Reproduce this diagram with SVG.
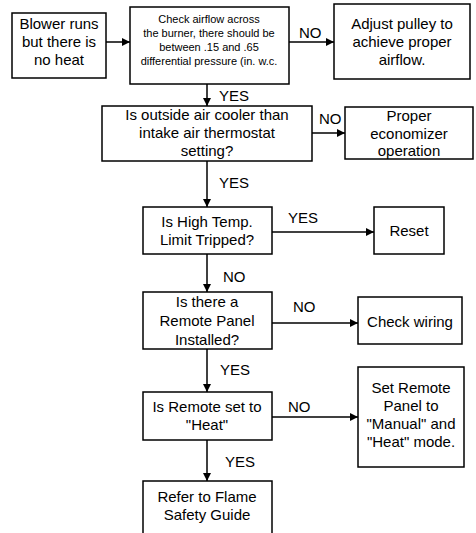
<svg xmlns="http://www.w3.org/2000/svg" width="476" height="533" viewBox="0 0 476 533">
<defs>
<marker id="ah" viewBox="0 0 10 10" refX="10" refY="5" markerWidth="10" markerHeight="8" markerUnits="userSpaceOnUse" orient="auto">
<path d="M0,0 L10,5 L0,10 z" fill="#000"/>
</marker>
</defs>
<style>
rect{fill:#fff;stroke:#000;stroke-width:1.5}
text{font-family:"Liberation Sans",Arial,sans-serif;font-size:15px;fill:#000;text-anchor:middle}
.s{font-size:11px}
.c line{stroke:#000;stroke-width:1.5;marker-end:url(#ah)}
.l{text-anchor:start}
</style>
<rect x="0" y="0" width="476" height="533" style="fill:#fff;stroke:none"/>
<g id="n1"><rect x="12" y="13" width="94" height="65"/><text x="59" y="29">Blower runs</text><text x="59" y="47">but there is</text><text x="59" y="65">no heat</text></g>
<g id="n2"><rect x="130" y="7" width="159" height="77"/><text class="s" x="209" y="23">Check airflow across</text><text class="s" x="209" y="37">the burner, there should be</text><text class="s" x="209" y="51">between .15 and .65</text><text class="s" x="209" y="65">differential pressure (in. w.c.</text></g>
<g id="n3"><rect x="334" y="4" width="136" height="75"/><text x="402" y="29">Adjust pulley to</text><text x="402" y="47">achieve proper</text><text x="402" y="65">airflow.</text></g>
<g id="n4"><rect x="102" y="106" width="210" height="55"/><text x="207" y="120">Is outside air cooler than</text><text x="207" y="138">intake air thermostat</text><text x="207" y="156">setting?</text></g>
<g id="n5"><rect x="345" y="107" width="128" height="52"/><text x="409" y="121">Proper</text><text x="409" y="139">economizer</text><text x="409" y="156">operation</text></g>
<g id="n6"><rect x="143" y="207" width="129" height="47"/><text x="207" y="227">Is High Temp.</text><text x="207" y="245">Limit Tripped?</text></g>
<g id="n7"><rect x="374" y="207" width="70" height="47"/><text x="409" y="236">Reset</text></g>
<g id="n8"><rect x="143" y="292" width="129" height="57"/><text x="207" y="307">Is there a</text><text x="207" y="326">Remote Panel</text><text x="207" y="345">Installed?</text></g>
<g id="n9"><rect x="358" y="297" width="104" height="47"/><text x="410" y="327">Check wiring</text></g>
<g id="n10"><rect x="143" y="392" width="129" height="48"/><text x="207" y="412">Is Remote set to</text><text x="207" y="430">"Heat"</text></g>
<g id="n11"><rect x="358" y="367" width="106" height="100"/><text x="411" y="393">Set Remote</text><text x="411" y="411">Panel to</text><text x="411" y="429">"Manual" and</text><text x="411" y="447">"Heat" mode.</text></g>
<g id="n12"><rect x="143" y="481" width="129" height="60"/><text x="207" y="502">Refer to Flame</text><text x="207" y="520">Safety Guide</text></g>
<g class="c" id="connectors">
<line x1="106" y1="42" x2="130" y2="42"/>
<line x1="289" y1="42" x2="334" y2="42"/>
<line x1="207" y1="84" x2="207" y2="106"/>
<line x1="312" y1="133" x2="345" y2="133"/>
<line x1="207" y1="161" x2="207" y2="207"/>
<line x1="272" y1="232" x2="374" y2="232"/>
<line x1="207" y1="254" x2="207" y2="292"/>
<line x1="272" y1="323" x2="358" y2="323"/>
<line x1="207" y1="349" x2="207" y2="392"/>
<line x1="272" y1="417" x2="358" y2="417"/>
<line x1="207" y1="440" x2="207" y2="481"/>
</g>
<g id="labels">
<text class="l" x="299" y="38">NO</text>
<text class="l" x="219" y="101">YES</text>
<text class="l" x="319" y="124">NO</text>
<text class="l" x="219" y="188">YES</text>
<text class="l" x="288" y="223">YES</text>
<text class="l" x="223" y="282">NO</text>
<text class="l" x="293" y="312">NO</text>
<text class="l" x="220" y="375">YES</text>
<text class="l" x="288" y="412">NO</text>
<text class="l" x="225" y="467">YES</text>
</g>
</svg>
